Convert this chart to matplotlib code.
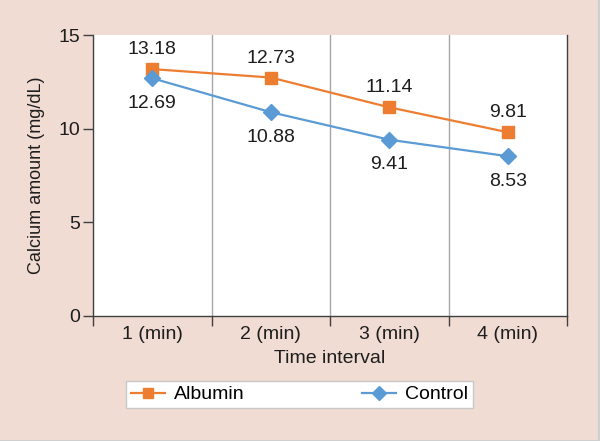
import matplotlib
matplotlib.use("Agg")
import matplotlib.pyplot as plt
from matplotlib.lines import Line2D

categories = ["1 (min)", "2 (min)", "3 (min)", "4 (min)"]
albumin = [13.18, 12.73, 11.14, 9.81]
control = [12.69, 10.88, 9.41, 8.53]
yticks = [0, 5, 10, 15]

plt.rcParams['font.family'] = ['Liberation Sans', 'DejaVu Sans']

bg = '#f0dcd3'
txt = '#1e1e1e'
fig = plt.figure(figsize=(6.0, 4.41), dpi=100, facecolor=bg)
ax = fig.add_axes([93/600, 1-316/441, (567-93)/600, (316-35)/441])
ax.set_facecolor('white')

x = list(range(1, len(categories) + 1))
orange = '#ED7D31'
blue = '#5B9BD5'
la, = ax.plot(x, albumin, color=orange, lw=1.6, marker='s', ms=8, label='Albumin', zorder=3)
lc, = ax.plot(x, control, color=blue, lw=1.6, marker='D', ms=8, label='Control', zorder=3)

for xi, v in zip(x, albumin):
    ax.annotate(f"{v:.2f}", (xi, v), xytext=(0, 14), textcoords='offset points',
                ha='center', va='center', fontsize=14, color=txt)
for xi, v in zip(x, control):
    ax.annotate(f"{v:.2f}", (xi, v), xytext=(0, -18), textcoords='offset points',
                ha='center', va='center', fontsize=14, color=txt)

ax.set_xlim(0.5, len(categories) + 0.5)
ax.set_ylim(0, 15)
ax.set_yticks(yticks)
ax.set_yticklabels([str(t) for t in yticks], fontsize=14, color=txt)
ax.set_xticks(x)
ax.set_xticklabels(categories, fontsize=14, color=txt)
ax.tick_params(axis='x', length=0, pad=7)
ax.tick_params(axis='y', length=7, width=1, color='#404040', pad=2)

# category boundary ticks and gridlines
bounds = [i + 0.5 for i in range(len(categories) + 1)]
ax.set_xticks(bounds, minor=True)
ax.tick_params(axis='x', which='minor', length=7, width=1, color='#404040', direction='out')
for b in bounds[1:-1]:
    ax.axvline(b, color='#a6a6a6', lw=1, zorder=1)

ax.spines['top'].set_visible(False)
for s in ['left', 'right', 'bottom']:
    ax.spines[s].set_color('#404040')
    ax.spines[s].set_linewidth(1)

ax.set_xlabel('Time interval', fontsize=14, color=txt, labelpad=5)
ax.set_ylabel('Calcium amount (mg/dL)', fontsize=13, color=txt, labelpad=10)

leg = fig.legend(handles=[la, lc], labels=['Albumin', 'Control'], ncol=2,
                 bbox_to_anchor=(126/600, 1-409/441, 347/600, 29/441),
                 mode='expand', loc='center', fontsize=14, frameon=True,
                 fancybox=False, edgecolor='#c8c8c8', facecolor='white',
                 framealpha=1, handlelength=1.75, handletextpad=0.45,
                 markerscale=0.85, borderaxespad=0, borderpad=0.25)
leg.get_frame().set_linewidth(1)

# thin light border at right and bottom edges of the image
fig.add_artist(Line2D([0, 1], [0.001, 0.001], transform=fig.transFigure, color='#cfcfcf', lw=1.5))
fig.add_artist(Line2D([0.999, 0.999], [0, 1], transform=fig.transFigure, color='#cfcfcf', lw=1.5))

fig.savefig('out.png', dpi=100, facecolor=bg)
